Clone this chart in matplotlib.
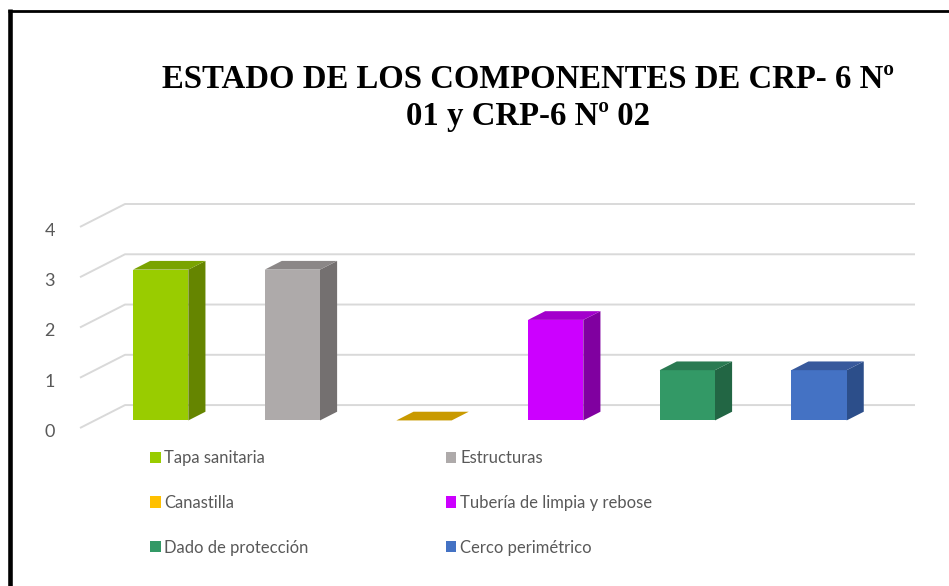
import matplotlib
matplotlib.use("Agg")
import matplotlib.pyplot as plt
import matplotlib.transforms as mtransforms
from matplotlib.patches import Polygon, Patch
from matplotlib.lines import Line2D

# ---- data ----
categories = ["Tapa sanitaria", "Estructuras", "Canastilla",
              "Tubería de limpia y rebose", "Dado de protección", "Cerco perimétrico"]
values = [3, 3, 0, 2, 1, 1]
yticks = [0, 1, 2, 3, 4]
title = "ESTADO DE LOS COMPONENTES DE CRP- 6 Nº\n01 y CRP-6 Nº 02"

front_colors = ["#99CC00", "#AEAAAA", "#FFC000", "#CC00FF", "#339966", "#4472C4"]
top_colors = ["#7AA300", "#8B8787", "#C99A00", "#A300CC", "#2A7A52", "#38599C"]
side_colors = ["#658500", "#747070", "#A07A00", "#8000A0", "#226644", "#2C4E8A"]

# ---- pseudo-3D geometry (oblique offsets in data units) ----
DX, DY = 0.342, 0.456      # full floor depth offset
F0, F1 = 0.33, 0.71         # bar front / back fraction of depth
BW = 0.42                   # bar width

W, H = 949, 586
fig = plt.figure(figsize=(W / 100, H / 100), dpi=100)
ax = fig.add_axes([80 / W, (H - 428) / H, 835 / W, 224 / H])
ax.set_xlim(-0.5, 5.5 + DX)
ax.set_ylim(0, 4 + DY)
for s in ax.spines.values():
    s.set_visible(False)
ax.set_xticks([])
ax.set_yticks(yticks)
ax.set_yticklabels([str(t) for t in yticks], fontsize=13, color="#595959",
                   family=["Lato", "DejaVu Sans"])
ax.tick_params(axis="y", length=0, pad=18)
shift = mtransforms.ScaledTranslation(0, -2.5 / 100, fig.dpi_scale_trans)
for lab in ax.get_yticklabels():
    lab.set_transform(lab.get_transform() + shift)
ax.patch.set_alpha(0)

grid_c = "#D9D9D9"
n = len(categories)
for t in yticks:
    ax.plot([-0.5, -0.5 + DX, n - 0.5 + DX], [t, t + DY, t + DY],
            color=grid_c, lw=1.4, solid_capstyle="butt", zorder=1, clip_on=False)

for i, v in enumerate(values):
    x0 = i - BW / 2 + F0 * DX
    x1 = i + BW / 2 + F0 * DX
    yb = F0 * DY
    ddx = (F1 - F0) * DX
    ddy = (F1 - F0) * DY
    top = yb + v
    if v > 0:
        ax.add_patch(Polygon([(x1, yb), (x1 + ddx, yb + ddy), (x1 + ddx, top + ddy), (x1, top)],
                             closed=True, facecolor=side_colors[i], edgecolor="none", zorder=3))
        ax.add_patch(Polygon([(x0, yb), (x1, yb), (x1, top), (x0, top)],
                             closed=True, facecolor=front_colors[i], edgecolor="none", zorder=3))
    ax.add_patch(Polygon([(x0, top), (x1, top), (x1 + ddx, top + ddy), (x0 + ddx, top + ddy)],
                         closed=True, facecolor=top_colors[i], edgecolor="none", zorder=3))

# ---- title ----
fig.text(528 / W, 1 - 98 / H, title, ha="center", va="center",
         fontsize=23.6, fontweight="bold", family=["Liberation Serif", "DejaVu Serif"],
         linespacing=1.22, color="black")

# ---- legend (row-wise order) ----
handles = [Patch(facecolor=c, edgecolor="none") for c in front_colors]
order = [0, 2, 4, 1, 3, 5]
leg = fig.legend([handles[k] for k in order], [categories[k] for k in order],
                 ncol=2, loc="upper left", bbox_to_anchor=(150 / W, 1 - 450 / H),
                 frameon=False, borderpad=0, borderaxespad=0,
                 handlelength=0.65, handleheight=0.65, handletextpad=0.22,
                 labelspacing=1.73, columnspacing=8.2,
                 prop={"family": ["Lato", "DejaVu Sans"], "size": 12})
for txt in leg.get_texts():
    txt.set_color("#595959")

# ---- border (top and left lines) ----
fig.add_artist(Line2D([9.5 / W, 9.5 / W], [0, 1 - 9 / H], transform=fig.transFigure,
                      color="black", lw=3.3, solid_capstyle="butt"))
fig.add_artist(Line2D([7.5 / W, 1], [1 - 11 / H, 1 - 11 / H], transform=fig.transFigure,
                      color="black", lw=2.0, solid_capstyle="butt"))

fig.savefig("out.png", dpi=100, facecolor="white")
